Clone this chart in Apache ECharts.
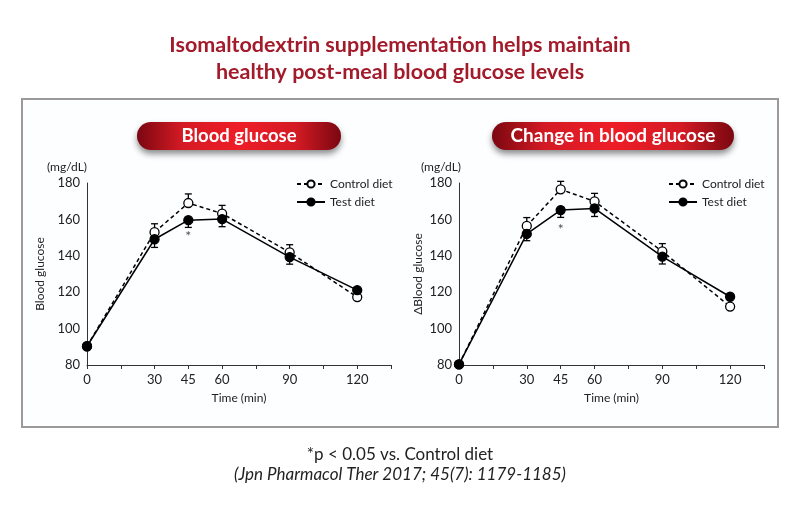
<!DOCTYPE html>
<html>
<head>
<meta charset="utf-8">
<script src="https://cdn.jsdelivr.net/npm/echarts@6/dist/echarts.min.js"></script>
<style>
html, body { margin: 0; padding: 0; background: #fff; }
#main { width: 800px; height: 515px; }
</style>
</head>
<body>
<div id="main"></div>
<script>
// time points (min)
var times = [0, 30, 45, 60, 90, 120];
var xLabels = [0, 30, 45, 60, 90, 120];
var yTicks = [80, 100, 120, 140, 160, 180];

// Blood glucose (mg/dL)
var bgControl = [90.3, 153, 169, 163.2, 141.9, 117.3];
var bgControlErr = [0, 4.6, 5, 4.5, 4.2, 0];
var bgTest = [90.3, 149.1, 159.6, 160.2, 139.3, 121.1];
var bgTestErr = [0, 4.5, 4, 4.2, 3.9, 0];

// Change in blood glucose (mg/dL)
var dControl = [80.3, 156.4, 176.5, 169.9, 142.4, 112.1];
var dControlErr = [0, 4.6, 4.4, 4.4, 4.3, 0];
var dTest = [80.3, 152, 165.1, 166, 139.5, 117.5];
var dTestErr = [0, 3.7, 4, 4.4, 4, 0];

// significance marks (time, height of mark)
var bgSig = [[45, 150.5]];
var dSig = [[45, 154.5]];

var FONT = 'Lato';

function pairs(xs, ys) {
    var out = [];
    for (var i = 0; i < xs.length; i++) out.push([xs[i], ys[i]]);
    return out;
}
function errData(xs, ys, es) {
    var out = [];
    for (var i = 0; i < xs.length; i++) {
        if (es[i] > 0) out.push([xs[i], ys[i], es[i]]);
    }
    return out;
}
// dir = 1 -> upper whisker only, -1 -> lower whisker only
function errSeries(idx, data, dir) {
    return {
        type: 'custom',
        xAxisIndex: idx,
        yAxisIndex: idx,
        z: 1,
        silent: true,
        data: data,
        renderItem: function (params, api) {
            var x = api.value(0), y = api.value(1), e = api.value(2);
            var p0 = api.coord([x, y]);
            var p1 = api.coord([x, y + dir * e]);
            var st = {stroke: '#000', lineWidth: 1.3};
            return {
                type: 'group',
                children: [
                    {type: 'line', shape: {x1: p0[0], y1: p0[1], x2: p1[0], y2: p1[1]}, style: st},
                    {type: 'line', shape: {x1: p1[0] - 3.5, y1: p1[1], x2: p1[0] + 3.5, y2: p1[1]}, style: st}
                ]
            };
        }
    };
}
function lineSeries(idx, name, data, dashed) {
    return {
        type: 'line',
        name: name,
        xAxisIndex: idx,
        yAxisIndex: idx,
        z: 3,
        data: data,
        symbol: 'circle',
        symbolSize: 9,
        showSymbol: true,
        lineStyle: {color: '#000', width: 1.5, type: dashed ? [4, 3] : 'solid'},
        itemStyle: {color: dashed ? '#fff' : '#000', borderColor: '#000', borderWidth: 1.3},
        emphasis: {disabled: true}
    };
}
function sigSeries(idx, data) {
    return {
        type: 'scatter',
        xAxisIndex: idx,
        yAxisIndex: idx,
        symbolSize: 0,
        data: data,
        silent: true,
        label: {show: true, formatter: '*', position: 'inside', color: '#222', fontSize: 14, fontFamily: FONT}
    };
}
function xAxisCfg(idx) {
    return {
        type: 'value',
        gridIndex: idx,
        min: 0, max: 135, interval: 15,
        name: 'Time (min)',
        nameLocation: 'middle',
        nameGap: 27,
        nameTextStyle: {fontSize: 12, color: '#222', fontFamily: FONT},
        axisLine: {lineStyle: {color: '#333', width: 1}},
        axisTick: {show: true, length: 4, lineStyle: {color: '#333'}},
        splitLine: {show: false},
        axisLabel: {
            fontSize: 13, color: '#222', fontFamily: FONT, margin: 8,
            formatter: function (v) { return xLabels.indexOf(v) >= 0 ? String(v) : ''; }
        }
    };
}
function yAxisCfg(idx, name, gap) {
    return {
        type: 'value',
        gridIndex: idx,
        min: yTicks[0], max: yTicks[yTicks.length - 1], interval: 20,
        name: name,
        nameLocation: 'middle',
        nameGap: gap,
        nameRotate: 90,
        nameTextStyle: {fontSize: 12, color: '#222', fontFamily: FONT},
        axisLine: {show: true, lineStyle: {color: '#333', width: 1}},
        axisTick: {show: false},
        splitLine: {show: false},
        axisLabel: {fontSize: 13, color: '#222', fontFamily: FONT, margin: 7}
    };
}
function legendCfg(left) {
    return {
        left: left, top: 178,
        orient: 'vertical',
        itemWidth: 28, itemHeight: 9, itemGap: 6, padding: 0,
        data: ['Control diet', 'Test diet'],
        selectedMode: false,
        textStyle: {fontSize: 12, color: '#222', fontFamily: FONT}
    };
}
function banner(x, w, text, size) {
    return {
        type: 'group',
        left: x, top: 122,
        children: [
            {
                type: 'rect',
                shape: {x: 0, y: 0, width: w, height: 28, r: 14},
                style: {
                    fill: new echarts.graphic.LinearGradient(0, 0, 1, 0, [
                        {offset: 0, color: '#7a0710'},
                        {offset: 0.22, color: '#d41a24'},
                        {offset: 0.5, color: '#ee1d27'},
                        {offset: 0.78, color: '#d41a24'},
                        {offset: 1, color: '#7a0710'}
                    ]),
                    shadowBlur: 6, shadowOffsetY: 4, shadowColor: 'rgba(0,0,0,0.45)'
                }
            },
            {
                type: 'text',
                x: w / 2, y: 14,
                style: {
                    text: text, fill: '#fff', font: 'bold ' + size + 'px Lato',
                    align: 'center', verticalAlign: 'middle'
                }
            }
        ]
    };
}

var chart = echarts.init(document.getElementById('main'));
var option = {
    backgroundColor: '#fff',
    animation: false,
    grid: [
        {left: 87, top: 183, width: 304, height: 182},
        {left: 459, top: 183, width: 305, height: 182}
    ],
    xAxis: [xAxisCfg(0), xAxisCfg(1)],
    yAxis: [yAxisCfg(0, 'Blood glucose', 41), yAxisCfg(1, '\u0394Blood glucose', 35)],
    legend: [legendCfg(296), legendCfg(668)],
    graphic: [
        {
            type: 'rect', z: -10,
            shape: {x: 22, y: 99, width: 756, height: 328},
            style: {fill: '#fdfeff', stroke: '#9a9a9a', lineWidth: 2}
        },
        {
            type: 'text', x: 400, y: 45,
            style: {
                text: 'Isomaltodextrin supplementation helps maintain',
                fill: '#a31b2b', font: 'bold 21.5px Lato', align: 'center', verticalAlign: 'middle'
            }
        },
        {
            type: 'text', x: 400, y: 72,
            style: {
                text: 'healthy post-meal blood glucose levels',
                fill: '#a31b2b', font: 'bold 21.5px Lato', align: 'center', verticalAlign: 'middle'
            }
        },
        banner(137, 204, 'Blood glucose', 18.5),
        banner(492, 242, 'Change in blood glucose', 19),
        {
            type: 'text', x: 67, y: 167,
            style: {text: '(mg/dL)', fill: '#222', font: '12px Lato', align: 'center', verticalAlign: 'middle'}
        },
        {
            type: 'text', x: 441, y: 167,
            style: {text: '(mg/dL)', fill: '#222', font: '12px Lato', align: 'center', verticalAlign: 'middle'}
        },
        {
            type: 'text', x: 400, y: 455,
            style: {text: '*p < 0.05 vs. Control diet', fill: '#222', font: '17px Lato', align: 'center', verticalAlign: 'middle'}
        },
        {
            type: 'text', x: 400, y: 475,
            style: {text: '(Jpn Pharmacol Ther 2017; 45(7): 1179-1185)', fill: '#222', font: 'italic 17px Lato', align: 'center', verticalAlign: 'middle'}
        }
    ],
    series: [
        errSeries(0, errData(times, bgControl, bgControlErr), 1),
        errSeries(0, errData(times, bgTest, bgTestErr), -1),
        lineSeries(0, 'Control diet', pairs(times, bgControl), true),
        lineSeries(0, 'Test diet', pairs(times, bgTest), false),
        sigSeries(0, bgSig),
        errSeries(1, errData(times, dControl, dControlErr), 1),
        errSeries(1, errData(times, dTest, dTestErr), -1),
        lineSeries(1, 'Control diet', pairs(times, dControl), true),
        lineSeries(1, 'Test diet', pairs(times, dTest), false),
        sigSeries(1, dSig)
    ]
};
chart.setOption(option);
</script>
</body>
</html>
